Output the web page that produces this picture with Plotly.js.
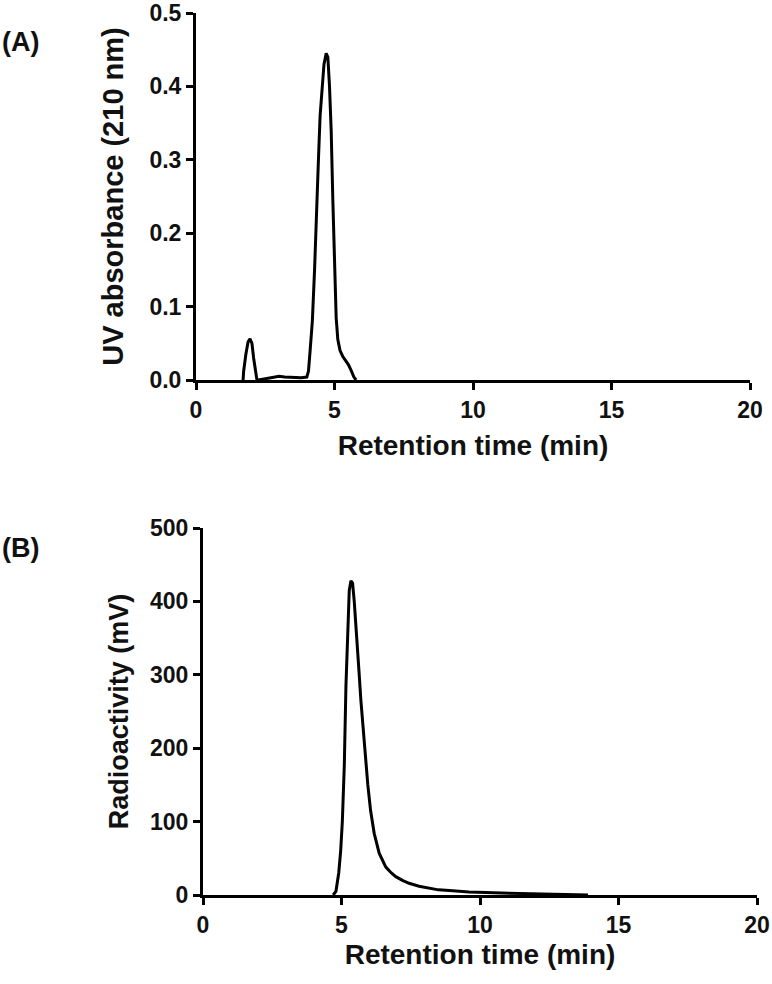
<!DOCTYPE html>
<html>
<head>
<meta charset="utf-8">
<script src="https://cdn.plot.ly/plotly-3.0.1.min.js"></script>
<style>
  html, body { margin: 0; padding: 0; background: #fff; }
  #chart { width: 772px; height: 984px; }
</style>
</head>
<body>
<div id="chart"></div>
<script>
// (A) UV trace, 210 nm
const timeA = [1.70, 1.72, 1.80, 1.88, 1.95, 2.02, 2.08, 2.14, 2.20, 2.25, 2.6, 2.8, 3.0, 3.2, 3.5, 3.8, 4.0,
  4.06, 4.12, 4.20, 4.28, 4.36, 4.42, 4.48, 4.55, 4.62, 4.70, 4.76, 4.82, 4.88, 4.94, 5.00, 5.06, 5.12,
  5.20, 5.30, 5.40, 5.50, 5.60, 5.70, 5.78];
const uvA = [0, 0.012, 0.035, 0.052, 0.056, 0.050, 0.030, 0.012, 0.0, 0, 0.002, 0.004, 0.005, 0.004, 0.003, 0.003, 0.004,
  0.012, 0.040, 0.080, 0.150, 0.250, 0.300, 0.360, 0.400, 0.430, 0.445, 0.440, 0.400, 0.340, 0.245, 0.150, 0.085, 0.055,
  0.040, 0.032, 0.027, 0.021, 0.013, 0.004, 0];

// (B) radio trace
const timeB = [4.70, 4.80, 4.90, 4.97, 5.03, 5.10, 5.16, 5.22, 5.28, 5.34, 5.40, 5.46, 5.52, 5.58, 5.64, 5.70, 5.76,
  5.86, 5.95, 6.05, 6.18, 6.36, 6.50, 6.60, 6.80, 6.96, 7.20, 7.44, 7.80, 8.17, 8.50, 8.90, 9.60, 10.5, 11.5, 12.5, 13.2, 13.9];
const radB = [0, 5, 30, 60, 100, 175, 284, 357, 415, 428, 425, 400, 370, 335, 300, 265, 235,
  190, 150, 115, 84, 57, 45, 38, 30, 25, 20, 16, 12, 9, 7, 6, 4, 3, 2, 1.5, 1, 0];

const xTicks = [0, 5, 10, 15, 20];
const yTicksA = [0, 0.1, 0.2, 0.3, 0.4, 0.5];
const yTicksB = [0, 100, 200, 300, 400, 500];

const W = 772, H = 984;
const fontFam = 'Liberation Sans, Arial, sans-serif';
const ink = '#111';

const bold = s => '<b>' + s + '</b>';

function axisBase() {
  return {
    showgrid: false, zeroline: false,
    showline: true, linecolor: '#000', linewidth: 3,
    ticks: 'outside', ticklen: 7, tickwidth: 3, tickcolor: '#000',
    tickfont: { family: fontFam, size: 23, color: ink },
    fixedrange: true
  };
}

function titleOf(text, size, standoff) {
  return { text: bold(text), font: { family: fontFam, size: size, color: ink }, standoff: standoff };
}

const traces = [
  { x: timeA, y: uvA, xaxis: 'x', yaxis: 'y', type: 'scatter', mode: 'lines',
    line: { color: '#000', width: 3 }, hoverinfo: 'skip' },
  { x: timeB, y: radB, xaxis: 'x2', yaxis: 'y2', type: 'scatter', mode: 'lines',
    line: { color: '#000', width: 3 }, hoverinfo: 'skip' }
];

const layout = {
  width: W, height: H,
  margin: { l: 0, r: 0, t: 0, b: 0 },
  paper_bgcolor: '#fff', plot_bgcolor: '#fff',
  showlegend: false,
  font: { family: fontFam, color: ink },
  xaxis: Object.assign(axisBase(), {
    domain: [196 / W, 750 / W], range: [0, 20], anchor: 'y',
    tickvals: xTicks, ticktext: xTicks.map(v => bold(String(v))),
    title: titleOf('Retention time (min)', 28, 14)
  }),
  yaxis: Object.assign(axisBase(), {
    domain: [1 - 380 / H, 1 - 13 / H], range: [0, 0.5], anchor: 'x',
    tickvals: yTicksA, ticktext: yTicksA.map(v => bold(v.toFixed(1))),
    title: titleOf('UV absorbance (210 nm)', 29, 18)
  }),
  xaxis2: Object.assign(axisBase(), {
    domain: [203 / W, 757 / W], range: [0, 20], anchor: 'y2',
    tickvals: xTicks, ticktext: xTicks.map(v => bold(String(v))),
    title: titleOf('Retention time (min)', 28, 8)
  }),
  yaxis2: Object.assign(axisBase(), {
    domain: [1 - 895 / H, 1 - 528 / H], range: [0, 500], anchor: 'x2',
    tickvals: yTicksB, ticktext: yTicksB.map(v => bold(String(v))),
    title: titleOf('Radioactivity (mV)', 27, 14)
  }),
  annotations: [
    { text: bold('(A)'), xref: 'paper', yref: 'paper', x: 0, y: 1 - 42 / H,
      xanchor: 'left', yanchor: 'middle', showarrow: false, font: { family: fontFam, size: 27, color: ink } },
    { text: bold('(B)'), xref: 'paper', yref: 'paper', x: 0, y: 1 - 548 / H,
      xanchor: 'left', yanchor: 'middle', showarrow: false, font: { family: fontFam, size: 27, color: ink } }
  ]
};

Plotly.newPlot('chart', traces, layout, { displayModeBar: false, staticPlot: true });
</script>
</body>
</html>
